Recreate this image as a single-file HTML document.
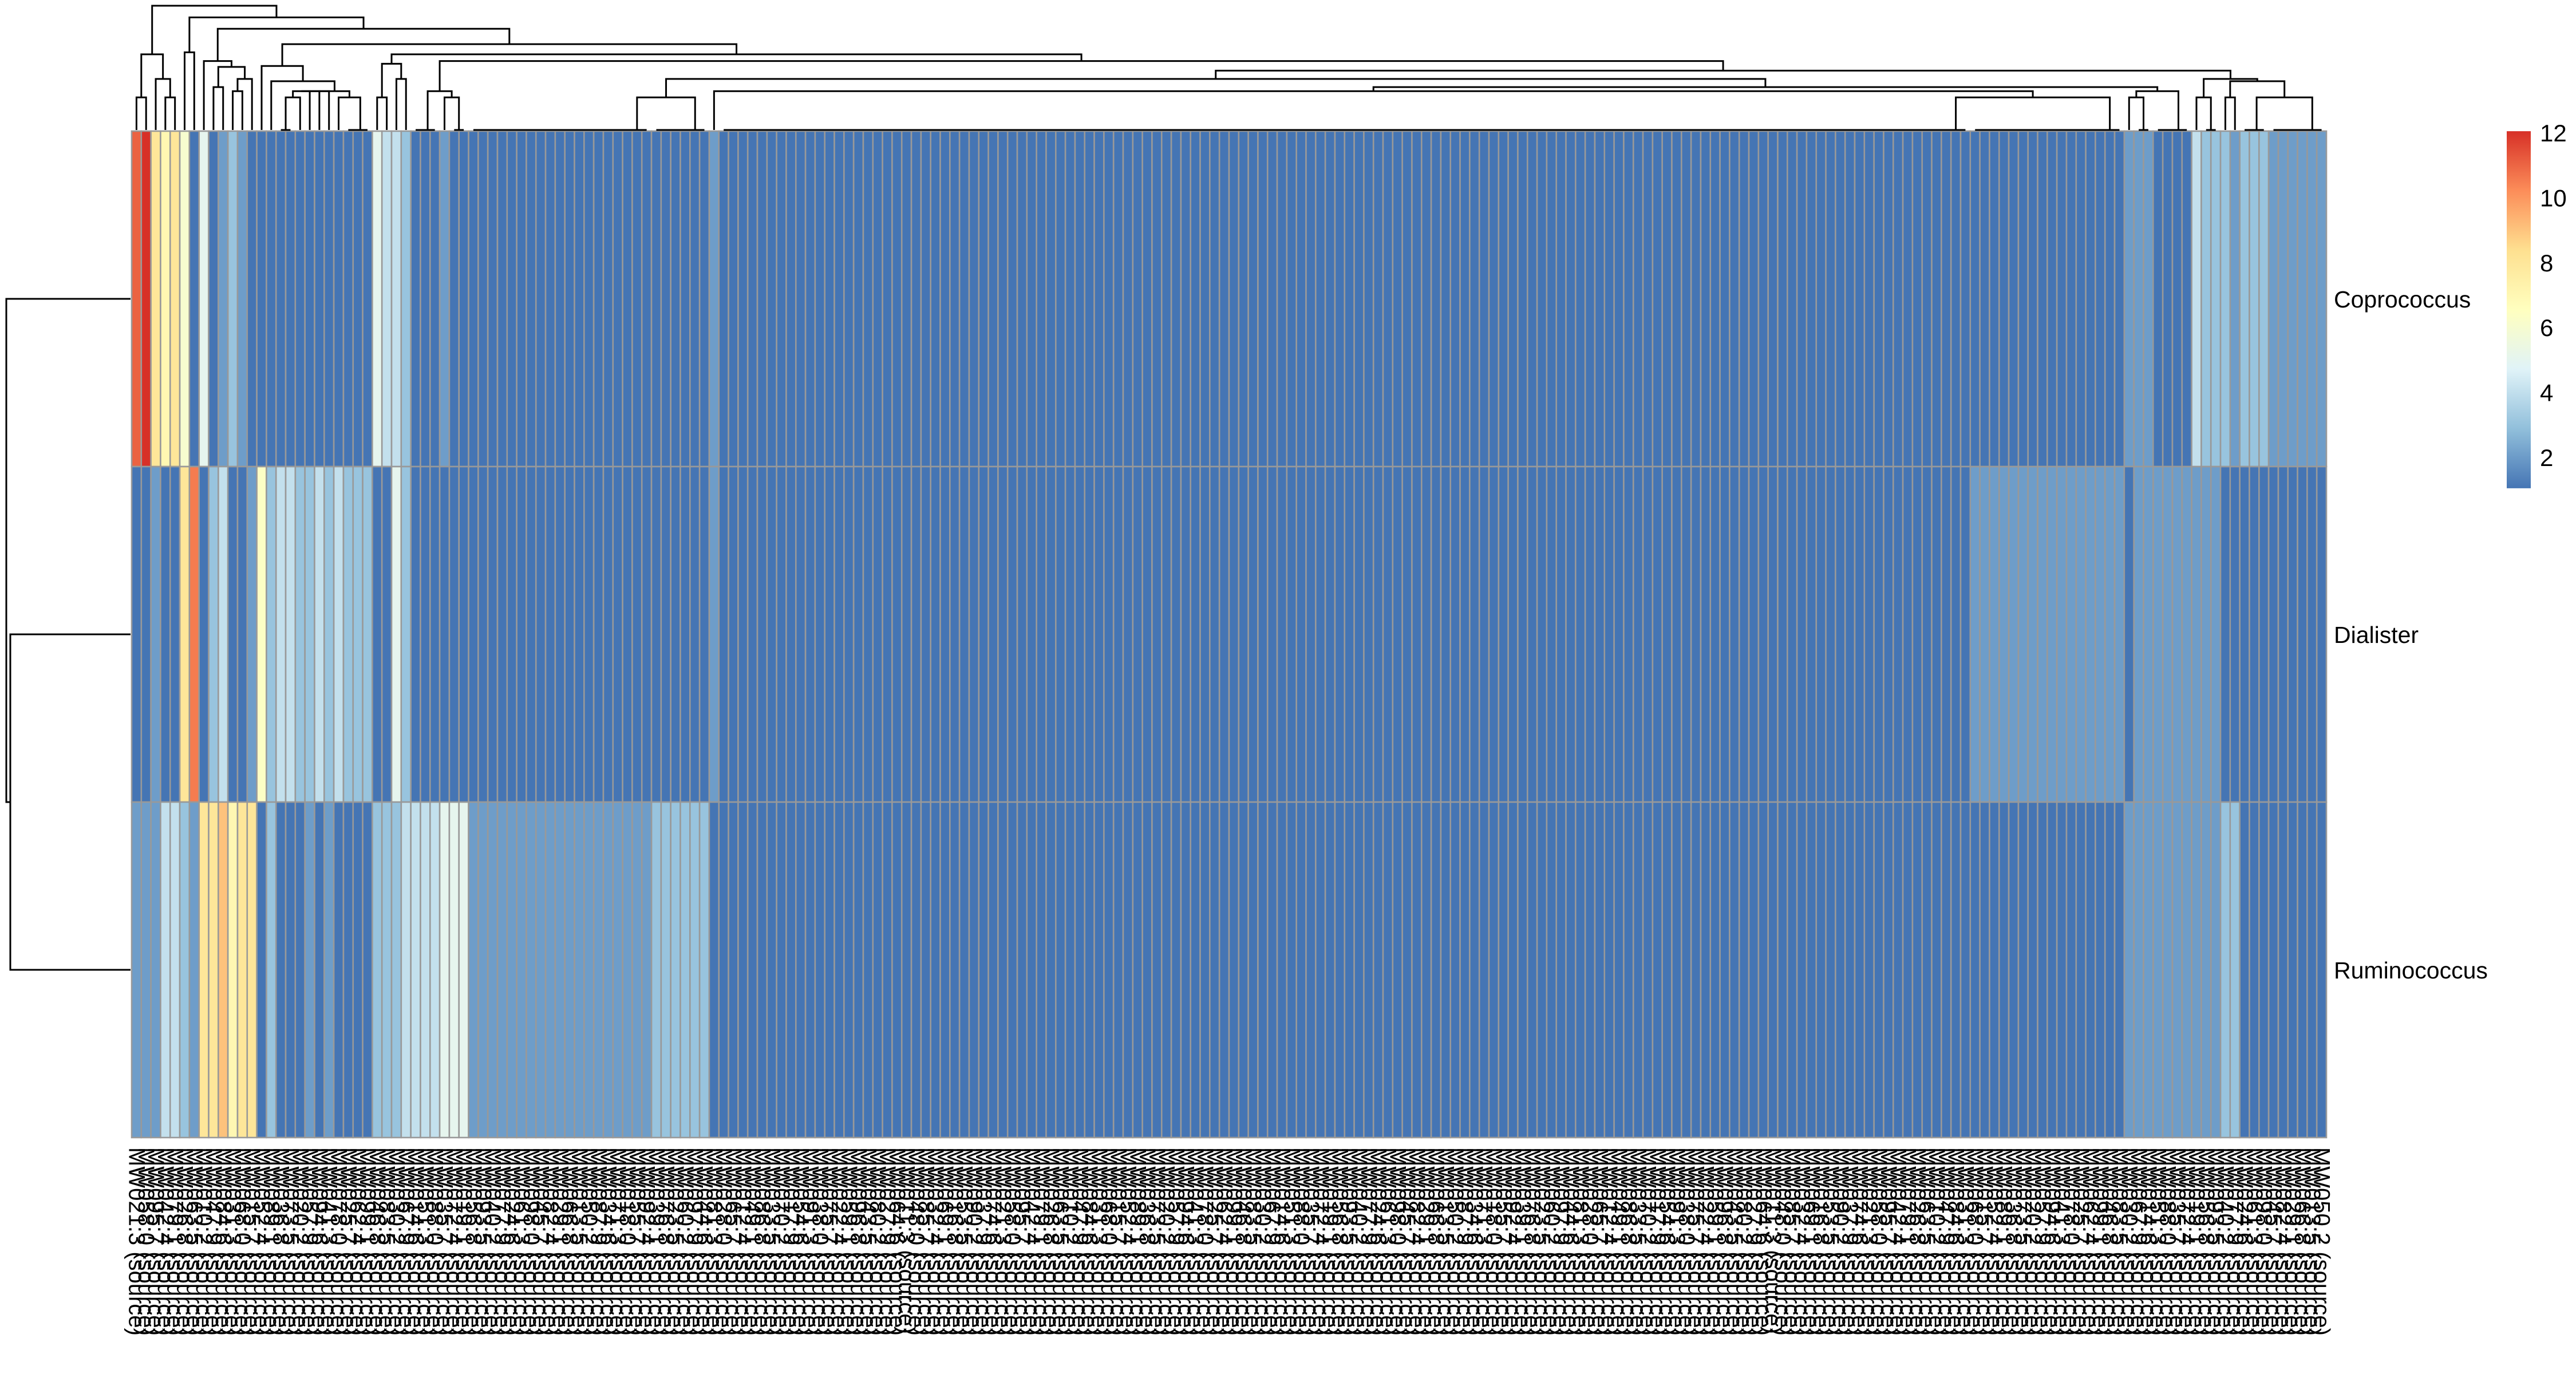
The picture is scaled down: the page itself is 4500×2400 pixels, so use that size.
<!DOCTYPE html>
<html><head><meta charset="utf-8"><style>
html,body{margin:0;padding:0;background:#fff;}
svg{display:block;font-family:"Liberation Sans",Arial,sans-serif;}
</style></head><body>
<svg id="chart" xmlns="http://www.w3.org/2000/svg" width="4500" height="2400" viewBox="0 0 4500 2400">
<rect width="4500" height="2400" fill="#fff"/>
<defs><linearGradient id="cbgrad" x1="0" y1="1" x2="0" y2="0">
<stop offset="0" stop-color="#4575B4"/><stop offset="0.1667" stop-color="#91BFDB"/><stop offset="0.3333" stop-color="#E0F3F8"/><stop offset="0.5" stop-color="#FFFFBF"/><stop offset="0.6667" stop-color="#FEE090"/><stop offset="0.8333" stop-color="#FC8D59"/><stop offset="1" stop-color="#D73027"/></linearGradient></defs>
<g id="cells"></g>
<g id="coldend" fill="none" stroke="#000" stroke-width="3"></g>
<g id="rowdend" fill="none" stroke="#000" stroke-width="3"></g>
<g id="rowlabels" font-size="41" fill="#000"></g>
<g id="collabels" font-size="40" fill="#000"></g>
<g id="legend" font-size="42" fill="#000"></g>
</svg>
<script>
const rowNames = ["Coprococcus","Dialister","Ruminococcus"];
const coprococcus = [
11,12,8,7,8,6,1,5,1,2,
3,2,1,1,1,1,1,1,1,1,
1,1,1,1,1,5,4,4,3,1,
1,1,2,1,1,1,1,1,1,1,
1,1,1,1,1,1,1,1,1,1,
1,1,1,1,1,1,1,1,1,1,
2,1,1,1,1,1,1,1,1,1,
1,1,1,1,1,1,1,1,1,1,
1,1,1,1,1,1,1,1,1,1,
1,1,1,1,1,1,1,1,1,1,
1,1,1,1,1,1,1,1,1,1,
1,1,1,1,1,1,1,1,1,1,
1,1,1,1,1,1,1,1,1,1,
1,1,1,1,1,1,1,1,1,1,
1,1,1,1,1,1,1,1,1,1,
1,1,1,1,1,1,1,1,1,1,
1,1,1,1,1,1,1,1,1,1,
1,1,1,1,1,1,1,1,1,1,
1,1,1,1,1,1,1,1,1,1,
1,1,1,1,1,1,1,1,1,1,
1,1,1,1,1,1,1,2,2,2,
1,1,1,1,4,3,3,3,2,3,
3,3,2,2,2,2,2,2];
const dialister = [
1,1,2,1,1,8,10.5,1,3,4,
1,1,2,6.3,3,4,4,3,3,4,
3,4,3,3,3,1,1,5,3,1,
1,1,1,1,1,1,1,1,1,1,
1,1,1,1,1,1,1,1,1,1,
1,1,1,1,1,1,1,1,1,1,
2,1,1,1,1,1,1,1,1,1,
1,1,1,1,1,1,1,1,1,1,
1,1,1,1,1,1,1,1,1,1,
1,1,1,1,1,1,1,1,1,1,
1,1,1,1,1,1,1,1,1,1,
1,1,1,1,1,1,1,1,1,1,
1,1,1,1,1,1,1,1,1,1,
1,1,1,1,1,1,1,1,1,1,
1,1,1,1,1,1,1,1,1,1,
1,1,1,1,1,1,1,1,1,1,
1,1,1,1,1,1,1,1,1,1,
1,1,1,1,1,1,1,1,1,1,
1,1,1,1,1,1,1,1,1,1,
1,2,2,2,2,2,2,2,2,2,
2,2,2,2,2,2,2,1,2,2,
2,2,2,2,2,2,2,1,1,1,
1,1,1,1,1,1,1,1];
const ruminococcus = [
2,2,2,4,4,3,2,8,8,9,
7,8,8,1,3,1,1,1,2,1,
2,1,1,1,1,3,3,3,4,4,
4,4,5,5,5,2,2,2,2,2,
2,2,2,2,2,2,2,2,2,2,
2,2,2,2,3,3,3,3,3,3,
1,1,1,1,1,1,1,1,1,1,
1,1,1,1,1,1,1,1,1,1,
1,1,1,1,1,1,1,1,1,1,
1,1,1,1,1,1,1,1,1,1,
1,1,1,1,1,1,1,1,1,1,
1,1,1,1,1,1,1,1,1,1,
1,1,1,1,1,1,1,1,1,1,
1,1,1,1,1,1,1,1,1,1,
1,1,1,1,1,1,1,1,1,1,
1,1,1,1,1,1,1,1,1,1,
1,1,1,1,1,1,1,1,1,1,
1,1,1,1,1,1,1,1,1,1,
1,1,1,1,1,1,1,1,1,1,
1,1,1,1,1,1,1,1,1,1,
1,1,1,1,1,1,1,2,2,2,
2,2,2,2,2,2,2,3,3,1,
1,1,1,1,1,1,1,1];
const legendTicks = [2,4,6,8,10,12];

const series = [coprococcus, dialister, ruminococcus];
const NS = "http://www.w3.org/2000/svg";
const nCol = coprococcus.length;
const HX0 = 230, HX1 = 4064, HY0 = 229, HY1 = 1987;
const cw = (HX1 - HX0) / nCol, rh = (HY1 - HY0) / 3;
const xOf = i => HX0 + i * cw;
const yOf = r => HY0 + r * rh;
const pal = ["#4575B4","#91BFDB","#E0F3F8","#FFFFBF","#FEE090","#FC8D59","#D73027"].map(h=>[1,3,5].map(k=>parseInt(h.substr(k,2),16)));
const VMIN = 1, VMAX = 12;
function color(v){
  let t = Math.max(0, Math.min(1, (v - VMIN) / (VMAX - VMIN))) * 6;
  let i = Math.min(5, Math.floor(t)), f = t - i;
  const c = pal[i].map((a,k)=>Math.round(a + (pal[i+1][k]-a)*f));
  return `rgb(${c[0]},${c[1]},${c[2]})`;
}
function mk(tag, attrs, parent){
  const e = document.createElementNS(NS, tag);
  for (const k in attrs) e.setAttribute(k, attrs[k]);
  parent.appendChild(e); return e;
}
const cells = document.getElementById("cells");
series.forEach((vals, r) => {
  vals.forEach((v, i) => {
    const el = mk("rect", {x: xOf(i), y: yOf(r), width: cw, height: rh, fill: color(v), stroke: "#999999", "stroke-width": 2.6}, cells);
    
    
  });
});
const rl = document.getElementById("rowlabels");
rowNames.forEach((n, r) => {
  const t = mk("text", {x: 4077, y: yOf(r) + rh/2 + 15}, rl);
  t.textContent = n;
  
  
});
const cl = document.getElementById("collabels");
for (let i = 0; i < nCol; i++) {
  const cx = xOf(i) + cw/2;
  const lab = "MW0" + String((i*37+11)%90+10) + "." + ((i*7+3)%10) + " (source)";
  const t = mk("text", {x: cx, y: 2004, transform: `rotate(90 ${cx} 2004)`, "dominant-baseline": "central"}, cl);
  t.textContent = lab;
  
  
}
const cd = document.getElementById("coldend");
const vec = i => series.map(s => s[i]);
const D = [];
for (let i = 0; i < nCol; i++){ D.push([]); for (let j = 0; j < nCol; j++){ const a=vec(i), b=vec(j); D[i].push(Math.hypot(a[0]-b[0],a[1]-b[1],a[2]-b[2])); } }
let cls = []; for (let i = 0; i < nCol; i++) cls.push({m:[i], x: xOf(i)+cw/2, h:0});
function cdist(A,B){ let m=0; for(const a of A.m) for(const b of B.m) if(D[a][b]>m) m=D[a][b]; return m; }
const merges = [];
let adj = []; for (let i = 0; i < cls.length-1; i++) adj.push(cdist(cls[i],cls[i+1]));
while (cls.length > 1) {
  let bi = 0; for (let i = 1; i < adj.length; i++) if (adj[i] < adj[bi]) bi = i;
  const A = cls[bi], B = cls[bi+1], h = adj[bi];
  merges.push({xa:A.x, ha:A.h, xb:B.x, hb:B.h, h:h});
  const C = {m: A.m.concat(B.m), x:(A.x+B.x)/2, h:h};
  cls.splice(bi, 2, C);
  adj.splice(bi, 1);
  if (bi > 0) adj[bi-1] = cdist(cls[bi-1], C);
  if (bi < cls.length-1) adj[bi] = cdist(C, cls[bi+1]);
}
const maxH = Math.max(...merges.map(m=>m.h)) || 1;
const hY = h => 227 - Math.sqrt(h/maxH) * 217;
merges.forEach(m => {
  const p = mk("path", {d: `M${m.xa},${hY(m.ha)}V${hY(m.h)}H${m.xb}V${hY(m.hb)}`}, cd);
  
  
});
const rd = document.getElementById("rowdend");
const rc = [0,1,2].map(r => yOf(r)+rh/2);
const p1 = mk("path", {d:`M228,${rc[1]}H18V${rc[2]}H228`}, rd);


const mid = (rc[1]+rc[2])/2;
const p2 = mk("path", {d:`M228,${rc[0]}H11V${mid}H18`}, rd);


const lg = document.getElementById("legend");
const ly = v => 799 - (v - 2) * 56.7;
const bar = mk("rect", {x: 4379, y: ly(12.05), width: 42, height: ly(1.05)-ly(12.05), fill: "url(#cbgrad)"}, lg);


legendTicks.forEach(v => {
  const t = mk("text", {x: 4437, y: ly(v) + 15}, lg);
  t.textContent = String(v);
  
  
});
</script>
</body></html>
